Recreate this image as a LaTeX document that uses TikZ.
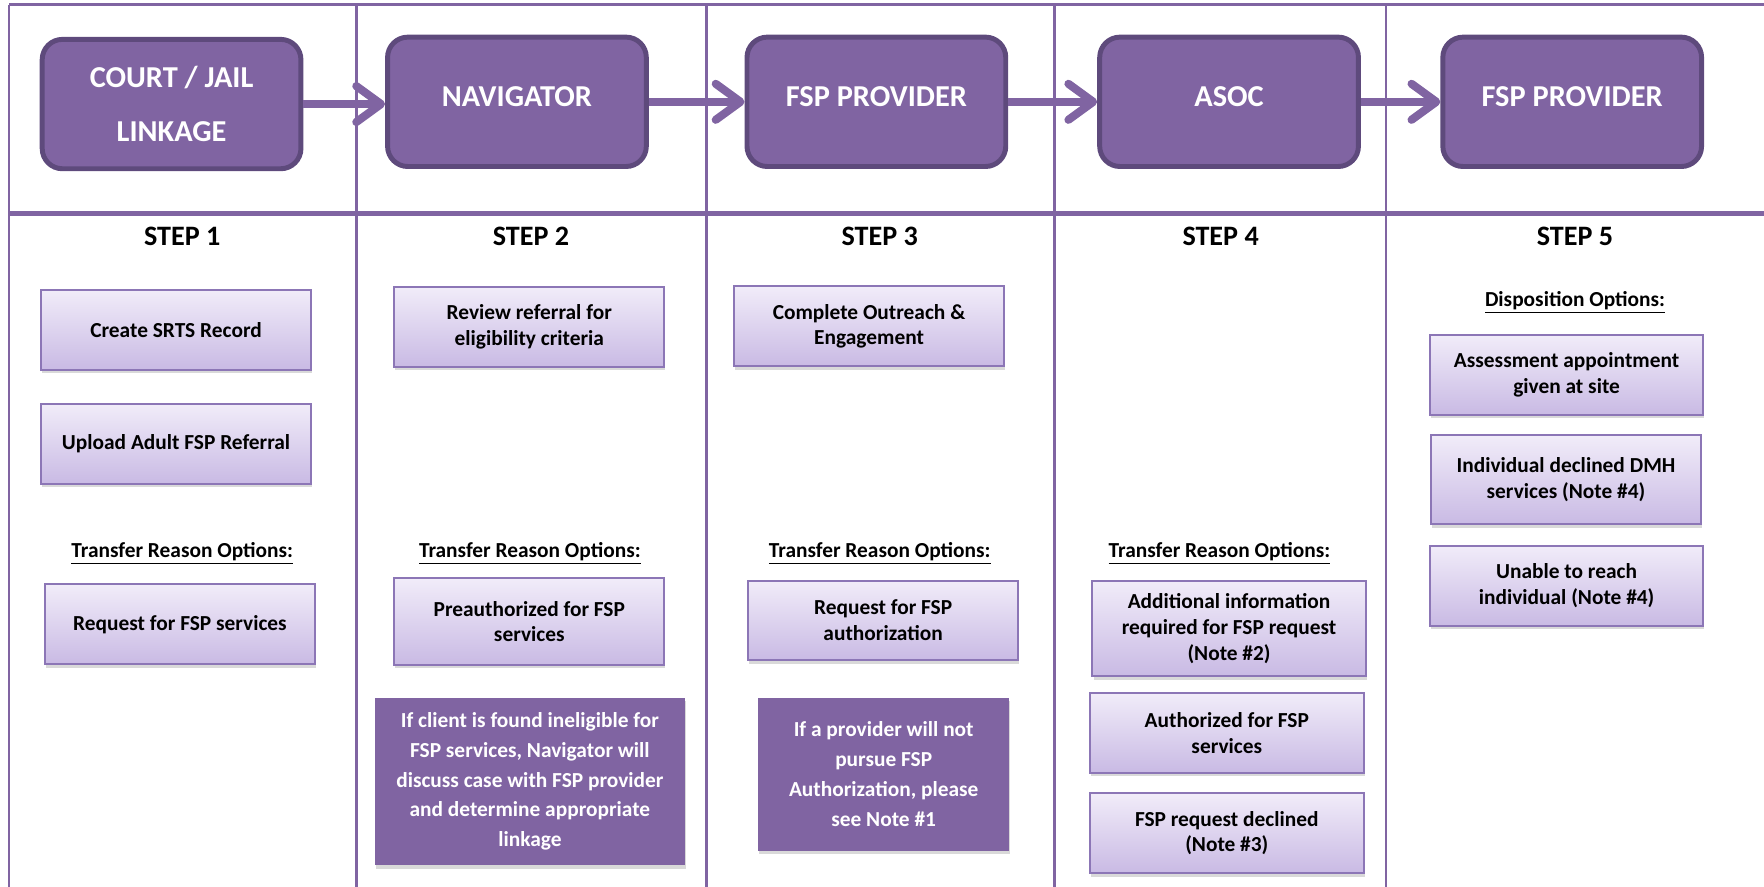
\documentclass[tikz,border=0pt]{standalone}
\usepackage{fontspec}
\setmainfont{Carlito}
\usetikzlibrary{shadows}
\usetikzlibrary{arrows.meta}
\definecolor{asocPurple}{HTML}{8064A2}
\definecolor{asocDark}{HTML}{5E4A7C}
\definecolor{asocLight}{HTML}{F1ECF9}
\definecolor{asocLilac}{HTML}{C9BAE4}
\definecolor{asocEdge}{HTML}{8C76B6}
\newcommand\rolefont{\fontsize{13.5}{24}\selectfont\bfseries}
\newcommand\taskfont{\fontsize{9.5}{11.5}\selectfont\bfseries}
\newcommand\notefont{\fontsize{9.5}{13.3}\selectfont\bfseries}

\tikzset{
  role/.style={draw=asocDark, line width=2.2pt, fill=asocPurple, rounded corners=9pt,
    minimum width=115pt, minimum height=57.5pt, text=white, font=\rolefont, align=center},
  task/.style={draw=asocEdge, line width=0.9pt, top color=asocLight, bottom color=asocLilac,
    drop shadow={shadow xshift=0.5pt, shadow yshift=-1.6pt, opacity=0.3},
    minimum width=120pt, minimum height=35.5pt, inner sep=1pt, font=\taskfont, align=center},
  note/.style={fill=asocPurple, drop shadow={shadow xshift=0.5pt, shadow yshift=-1.6pt, opacity=0.3},
    text=white, inner sep=1pt, font=\notefont, align=center},
  heading/.style={font=\fontsize{12.5}{15}\selectfont\bfseries},
  optlabel/.style={font=\taskfont},
  flow/.style={asocPurple, line width=3.6pt,
    -{Straight Barb[length=11pt, width=16pt, line cap=round, line join=round]}}
}

\begin{document}
\begin{tikzpicture}[x=0.5pt, y=-0.5pt]
    \useasboundingbox (0,0) rectangle (1568,788);
    % lanes
    \draw [asocPurple, line width=1.1pt] (8,4) -- (1568,4);
    \draw [asocPurple, line width=2.2pt] (8,190) -- (1568,190);
    \foreach \x in {8, 317, 628, 937, 1232} {\draw [asocPurple, line width=1.3pt] (\x,4) -- (\x,788);};
    % who holds the case
    \node [role] (court) at (152.5,92.5) {COURT / JAIL\\LINKAGE};
    \node [role] (nav) at (459.5,90.5) {\raisebox{4.5pt}{NAVIGATOR}};
    \node [role] (prov) at (779,90.5) {\raisebox{4.5pt}{FSP PROVIDER}};
    \node [role] (asoc) at (1092.5,90.5) {\raisebox{4.5pt}{ASOC}};
    \node [role] (disp) at (1397.5,90.5) {\raisebox{4.5pt}{FSP PROVIDER}};
    \foreach \a/\b in {court/nav, nav/prov, prov/asoc, asoc/disp} {\draw [flow] (\a.east) -- (\a.east -| \b.west);};
    \foreach \x/\n in {162/1, 472/2, 782/3, 1085/4, 1400/5} {\node [heading] (step\n) at (\x,210) {STEP \n};};
    \foreach \x/\n in {162/1, 471/2, 782/3, 1084/4} {\node [optlabel] (opts\n) at (\x,492) {\underline{Transfer Reason Options:}};};
    \node [optlabel] (dispopts) at (1400,269) {\underline{Disposition Options:}};
    % step 1
    \node [task] (srts) at (156.5,293) {Create SRTS Record};
    \node [task] (upload) at (156.5,394.5) {Upload Adult FSP Referral};
    \node [task] (reqsvc) at (160,555) {Request for FSP services};
    % step 2
    \node [task] (review) at (470.5,290.5) {Review referral for\\eligibility criteria};
    \node [task, minimum height=38.5pt] (preauth) at (470.5,552.5) {Preauthorized for FSP\\services};
    \node [note, minimum width=138pt, minimum height=74.5pt] (inelig) at (471,694.5)
        {If client is found ineligible for\\FSP services, Navigator will\\discuss case with FSP provider\\and determine appropriate\\linkage};
    % step 3
    \node [task] (outreach) at (772.5,290) {Complete Outreach \&\\Engagement};
    \node [task] (reqauth) at (785,551.5) {Request for FSP\\authorization};
    \node [note, minimum width=111.5pt, minimum height=68pt] (nopursue) at (785.5,688)
        {If a provider will not\\pursue FSP\\Authorization, please\\see Note \#1};
    % step 4
    \node [task, minimum width=121.5pt, minimum height=42.5pt] (addinfo) at (1092.5,558.5)
        {Additional information\\required for FSP request\\(Note \#2)};
    \node [task, minimum width=121.5pt] (authd) at (1090.5,651.5) {Authorized for FSP\\services};
    \node [task, minimum width=121.5pt] (declined) at (1090.5,740.5) {FSP request declined\\(Note \#3)};
    % step 5
    \node [task, minimum width=121.5pt] (assess) at (1392.5,333) {Assessment appointment\\given at site};
    \node [task, minimum height=39.5pt] (dmh) at (1392,426.5) {Individual declined DMH\\services (Note \#4)};
    \node [task, minimum width=121.5pt] (unable) at (1392.5,520.5) {Unable to reach\\individual (Note \#4)};
\end{tikzpicture}
\end{document}
